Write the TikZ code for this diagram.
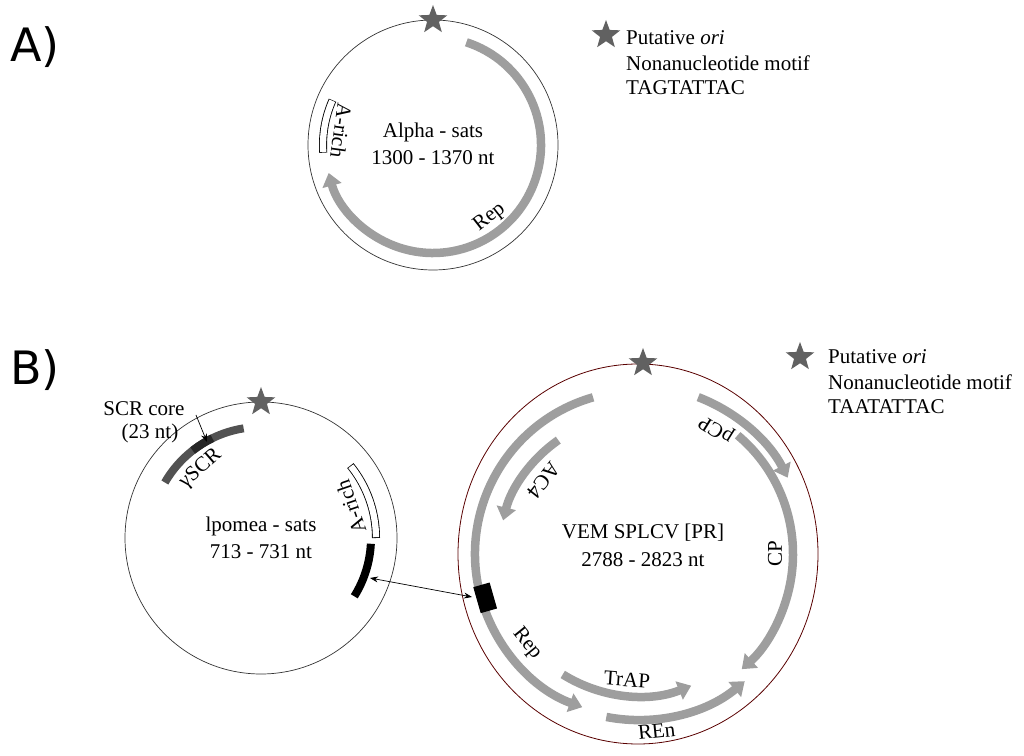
\documentclass[tikz,border=0pt]{standalone}
\usepackage{fontspec}
\setmainfont{Liberation Serif}
\newfontfamily\panelfont{DejaVu Sans}
\usetikzlibrary{arrows.meta,shapes.geometric}
\begin{document}
\begin{tikzpicture}[x=1pt,y=1pt,
  lbl/.style={font=\fontsize{21}{24}\selectfont,inner sep=0},
  gene/.style={draw=black!38,line width=8.5pt},
  genearr/.style={gene,-{Triangle[length=13pt 0,width=19pt 0]}},
  orista/.style={star,star points=5,star point ratio=2.4,fill=black!62,draw=none,minimum size=30pt,inner sep=0}]
\useasboundingbox (0,0) rectangle (1024,755);
% panel labels
\node[font=\panelfont\fontsize{46}{48}\selectfont] (pA) at (35,708) {A)};
\node[font=\panelfont\fontsize{46}{48}\selectfont] (pB) at (35,385) {B)};
% ===== Panel A =====
\coordinate (CA) at (433,610);
\draw[black!80,line width=0.7pt] (CA) circle[radius=125];
\draw[genearr] ([shift={(CA)}]72:108) arc[start angle=72,end angle=-165,radius=108];
\draw[black,line width=8pt] ([shift={(CA)}]156:110) arc[start angle=156,end angle=184,radius=110];
\draw[white,line width=6.3pt] ([shift={(CA)}]156.3:110) arc[start angle=156.3,end angle=183.7,radius=110];
\node[lbl,rotate=172+90] (arA) at ([shift={(CA)}]171:93) {A-rich};
\node[lbl,rotate=-52+90] (repA) at ([shift={(CA)}]-52:92) {Rep};
\node[orista] (starA) at ([shift={(CA)}]90:125) {};
\node[lbl] (tA1) at (CA) [yshift=13] {Alpha - sats};
\node[lbl] (tA2) at (CA) [yshift=-13] {1300 - 1370 nt};
% legend A
\node[orista] (lsA) at (606,720) {};
\node[lbl,anchor=west] (lA1) at (626,717) {Putative \textit{ori}};
\node[lbl,anchor=west] (lA2) at (626,692) {Nonanucleotide motif};
\node[lbl,anchor=west] (lA3) at (626,667) {TAGTATTAC};
% ===== Panel B left =====
\coordinate (CL) at (261,217);
\draw[black!80,line width=0.7pt] (CL) circle[radius=136];
\draw[black!68,line width=8pt] ([shift={(CL)}]99:111) arc[start angle=99,end angle=150,radius=111];
\draw[black!85,line width=8pt] ([shift={(CL)}]116:111) arc[start angle=116,end angle=128,radius=111];
\node[lbl,rotate=131-90] (gscr) at ([shift={(CL)}]131:92) {γSCR};
\draw[black,line width=8pt] ([shift={(CL)}]0:115) arc[start angle=0,end angle=39,radius=115];
\draw[white,line width=6.3pt] ([shift={(CL)}]0.4:115) arc[start angle=0.4,end angle=38.6,radius=115];
\node[lbl,rotate=19+90] (arB) at ([shift={(CL)}]19:95) {A-rich};
\draw[black,line width=8pt] ([shift={(CL)}]-3:110) arc[start angle=-3,end angle=-32,radius=110];
\coordinate (barL) at (370,177);
\node[orista] (starL) at ([shift={(CL)}]90:136) {};
\node[lbl] (tL1) at (CL) [yshift=12] {lpomea - sats};
\node[lbl] (tL2) at (CL) [yshift=-14] {713 - 731 nt};
\node[lbl] (scr1) at (144,346) {SCR core};
\node[lbl] (scr2) at (150,322) {(23 nt)};
\coordinate (scrtip) at (207,313);
\draw[-{Stealth[length=8pt]},line width=0.7pt] (196,340) -- (scrtip);
% ===== Panel B right =====
\coordinate (CR) at (638,201);
\draw[black!50!red!70!black,line width=0.8pt] (CR) ellipse[x radius=180,y radius=190];
\draw[genearr] ([shift={(CR)}]106:163) arc[start angle=106,end angle=250,radius=163];
\draw[genearr] ([shift={(CR)}]125:139) arc[start angle=125,end angle=166,radius=139];
\draw[genearr] ([shift={(CR)}]69:168) arc[start angle=69,end angle=27,radius=168];
\draw[genearr] ([shift={(CR)}]50:155) arc[start angle=50,end angle=-48,radius=155];
\draw[genearr] ([shift={(CR)}]238:142) arc[start angle=238,end angle=292,radius=142];
\draw[genearr] ([shift={(CR)}]259:166) arc[start angle=259,end angle=310,radius=166];
\node[fill=black,minimum width=17pt,minimum height=27pt,inner sep=0,rotate=196-180] (box) at ([shift={(CR)}]196:159) {};
\node[lbl,rotate=142+90] (ac4) at ([shift={(CR)}]142:120) {AC4};
\node[lbl,rotate=58+90] (pcp) at ([shift={(CR)}]58:148) {pCP};
\node[lbl,rotate=90] (cp) at ([shift={(CR)}]0:137) {CP};
\node[lbl,rotate=219+90] (repB) at ([shift={(CR)}]219:143) {Rep};
\node[lbl,rotate=266+90] (trap) at ([shift={(CR)}]265:126) {TrAP};
\node[lbl,rotate=276+90] (ren) at ([shift={(CR)}]276:178) {REn};
\node[orista] (starR) at (643,392) {};
\node[lbl] (tR1) at (643,222) {VEM SPLCV [PR]};
\node[lbl] (tR2) at (643,195) {2788 - 2823 nt};
\coordinate (barR) at (472,158);
\draw[{Stealth[length=8pt]}-{Stealth[length=8pt]},line width=0.7pt] (barL) -- (barR);
% legend B
\node[orista] (lsB) at (800,398) {};
\node[lbl,anchor=west] (lB1) at (828,398) {Putative \textit{ori}};
\node[lbl,anchor=west] (lB2) at (828,373) {Nonanucleotide motif};
\node[lbl,anchor=west] (lB3) at (828,348) {TAATATTAC};
\end{tikzpicture}
\end{document}
